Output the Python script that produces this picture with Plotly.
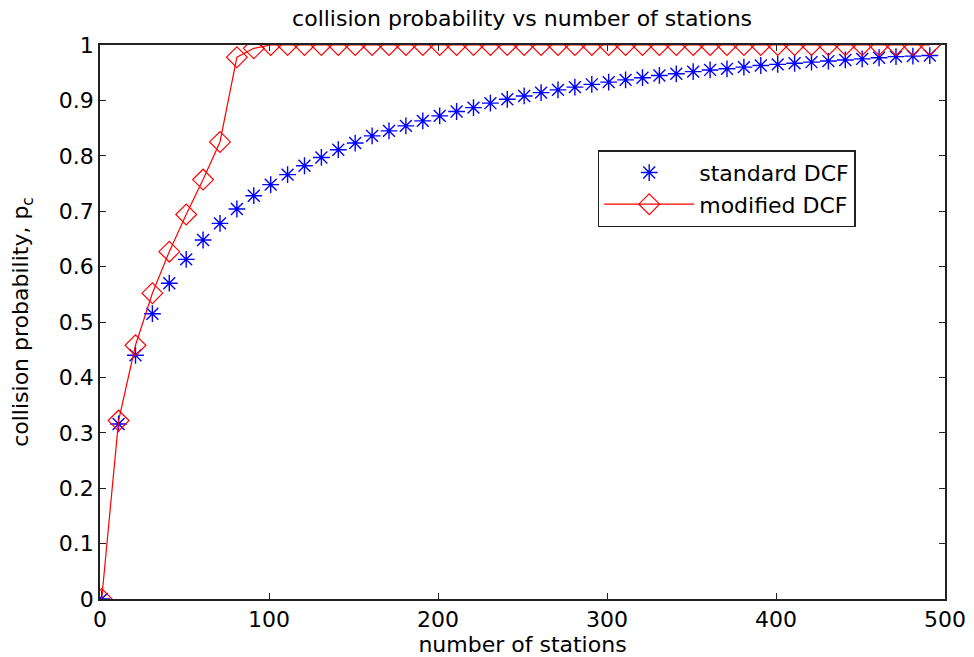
import plotly.graph_objects as go

stations = [1, 11, 21, 31, 41, 51, 61, 71, 81, 91, 101, 111, 121, 131, 141, 151,
            161, 171, 181, 191, 201, 211, 221, 231, 241, 251, 261, 271, 281, 291,
            301, 311, 321, 331, 341, 351, 361, 371, 381, 391, 401, 411, 421, 431,
            441, 451, 461, 471, 481, 491]

standard_dcf = [0.0, 0.316, 0.440, 0.515, 0.570, 0.613, 0.648, 0.678, 0.704, 0.728,
                0.748, 0.766, 0.782, 0.797, 0.811, 0.823, 0.836, 0.845, 0.854, 0.863,
                0.872, 0.880, 0.887, 0.895, 0.902, 0.908, 0.914, 0.919, 0.924, 0.929,
                0.933, 0.937, 0.941, 0.945, 0.948, 0.952, 0.955, 0.957, 0.960, 0.963,
                0.965, 0.967, 0.969, 0.971, 0.973, 0.975, 0.977, 0.979, 0.980, 0.981]

modified_dcf = [0.0, 0.322, 0.458, 0.552, 0.627, 0.694, 0.757, 0.825, 0.978, 0.994] + [1.0] * 40

font = dict(family="DejaVu Sans, Verdana, sans-serif", size=22, color="black")

fig = go.Figure()
fig.add_trace(go.Scatter(
    x=stations, y=standard_dcf, mode="markers", name="standard DCF",
    marker=dict(symbol="asterisk-open", size=14, color="blue",
                line=dict(color="blue", width=1.4)),
))
fig.add_trace(go.Scatter(
    x=stations, y=modified_dcf, mode="lines+markers", name="modified DCF",
    line=dict(color="red", width=1.2),
    marker=dict(symbol="diamond-open", size=16, color="red",
                line=dict(color="red", width=1.2)),
))

axis_common = dict(
    showgrid=False, zeroline=False, showline=True, linecolor="#222", linewidth=1.5,
    mirror="ticks", ticks="inside", ticklen=6, tickcolor="#222", tickwidth=1,
    tickfont=font, automargin=False,
)

fig.update_layout(
    width=974, height=657,
    margin=dict(l=100, r=29, t=45, b=58),
    paper_bgcolor="white", plot_bgcolor="white",
    font=font,
    title=dict(text="collision probability vs number of stations", x=0.536, xanchor="center",
               y=0.972, yanchor="middle", font=font),
    xaxis=dict(range=[0, 500], tickvals=[0, 100, 200, 300, 400, 500],
               title=dict(text="number of stations", font=font, standoff=4), **axis_common),
    yaxis=dict(range=[0, 1], tickvals=[i / 10 for i in range(11)],
               ticktext=["0", "0.1", "0.2", "0.3", "0.4", "0.5", "0.6", "0.7", "0.8", "0.9", "1"],
               title=dict(text="collision probability, p<sub>c</sub>", font=font, standoff=24),
               **axis_common),
    legend=dict(x=0.589, y=0.81, xanchor="left", yanchor="top",
                bgcolor="white", bordercolor="#222", borderwidth=1.5,
                font=font, itemwidth=90, tracegroupgap=0),
    showlegend=True,
)

fig.write_html("out.html")
